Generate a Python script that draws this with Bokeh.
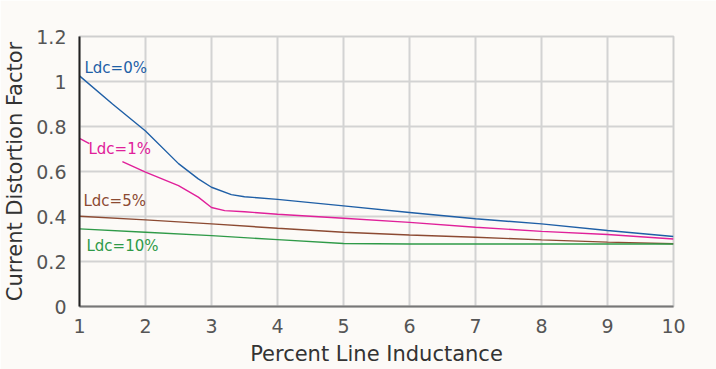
import math
from bokeh.plotting import figure
from bokeh.models import FixedTicker, Label
from bokeh.embed import file_html
from bokeh.resources import INLINE

nan = float("nan")

# Data
x_ticks = [1, 2, 3, 4, 5, 6, 7, 8, 9, 10]
y_ticks = [0, 0.2, 0.4, 0.6, 0.8, 1.0, 1.2]
y_tick_labels = ["0", "0.2", "0.4", "0.6", "0.8", "1", "1.2"]

ldc0_x = [1, 1.5, 2, 2.5, 2.8, 3, 3.3, 3.5, 4, 5, 6, 7, 8, 9, 10]
ldc0_y = [1.025, 0.90, 0.78, 0.635, 0.567, 0.53, 0.497, 0.488, 0.476, 0.447, 0.418, 0.39, 0.367, 0.338, 0.311]

ldc1_x = [1, 1.15, nan, 1.65, 2, 2.5, 2.8, 3, 3.2, 3.5, 4, 5, 6, 7, 8, 9, 10]
ldc1_y = [0.747, 0.724, nan, 0.644, 0.597, 0.537, 0.486, 0.44, 0.426, 0.421, 0.41, 0.392, 0.374, 0.352, 0.334, 0.32, 0.30]

ldc5_x = [1, 2, 3, 4, 5, 6, 7, 8, 9, 10]
ldc5_y = [0.401, 0.385, 0.367, 0.348, 0.33, 0.318, 0.308, 0.296, 0.286, 0.279]

ldc10_x = [1, 2, 3, 4, 5, 6, 7, 8, 9, 10]
ldc10_y = [0.345, 0.33, 0.315, 0.297, 0.28, 0.278, 0.278, 0.278, 0.278, 0.278]

series_names = ["Ldc=0%", "Ldc=1%", "Ldc=5%", "Ldc=10%"]

BG = "#FCFAF7"
colors = ["#1f5fa6", "#e0209a", "#8c4a32", "#2f9a48"]

p = figure(width=716, height=369, output_backend="svg", toolbar_location=None,
           x_range=(1, 10), y_range=(0, 1.2),
           min_border_left=77, min_border_right=43, min_border_top=36, min_border_bottom=63)
p.background_fill_color = BG
p.border_fill_color = BG
p.outline_line_color = "#cfcfcf"
p.outline_line_width = 2

for g in (p.xgrid, p.ygrid):
    g.grid_line_color = "#d3d3d3"
    g.grid_line_width = 2

p.xaxis.ticker = FixedTicker(ticks=x_ticks)
p.yaxis.ticker = FixedTicker(ticks=y_ticks)
p.yaxis.major_label_overrides = {t: s for t, s in zip(y_ticks, y_tick_labels)}
p.xaxis.major_label_overrides = {t: str(t) for t in x_ticks}

for ax in (p.xaxis, p.yaxis):
    ax.major_tick_line_color = None
    ax.minor_tick_line_color = None
    ax.major_label_text_font = "DejaVu Sans"
    ax.major_label_text_font_size = "19px"
    ax.major_label_text_color = "#555555"
    ax.axis_label_text_font = "DejaVu Sans"
    ax.axis_label_text_font_size = "21px"
    ax.axis_label_text_font_style = "normal"
    ax.axis_label_text_color = "#333333"
    ax.axis_line_width = 2

p.yaxis.axis_line_color = "#222222"
p.xaxis.axis_line_color = "#777777"
p.yaxis.major_label_standoff = 7
p.xaxis.major_label_standoff = 6
p.yaxis.axis_label = "Current Distortion Factor"
p.xaxis.axis_label = "Percent Line Inductance"
p.yaxis.axis_label_standoff = 6
p.xaxis.axis_label_standoff = 6

xs = [ldc0_x, ldc1_x, ldc5_x, ldc10_x]
ys = [ldc0_y, ldc1_y, ldc5_y, ldc10_y]
for x, y, c in zip(xs, ys, colors):
    p.line(x, y, line_color=c, line_width=1.4)

label_pos = [(1.075, 1.058), (1.136, 0.698), (1.06, 0.471), (1.106, 0.271)]
for name, (lx, ly), c in zip(series_names, label_pos, colors):
    p.add_layout(Label(x=lx, y=ly, text=name, text_color=c, text_font="DejaVu Sans",
                       text_font_size="15px", text_baseline="middle", text_align="left"))

html = file_html(p, INLINE)
open("out.html", "w").write(html)
